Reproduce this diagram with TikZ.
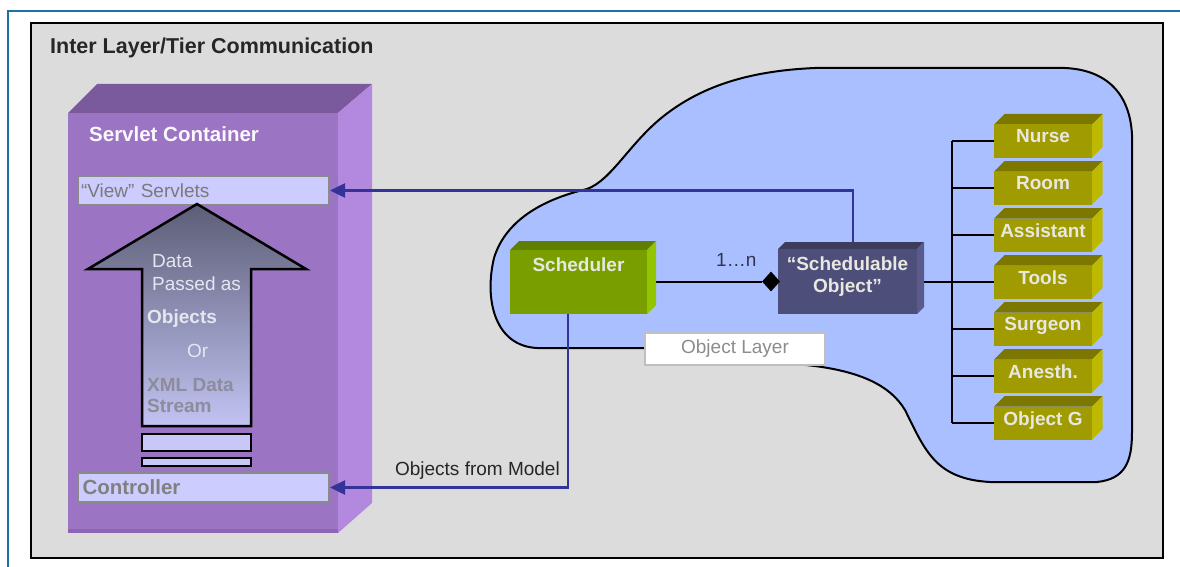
\documentclass[tikz,border=0pt]{standalone}
\usepackage{fontspec}
\setmainfont{Liberation Sans}
\usetikzlibrary{shapes.geometric,arrows.meta}
\pgfdeclarelayer{back}
\pgfdeclarelayer{mid}
\pgfsetlayers{back,mid,main}

\definecolor{frameblue}{HTML}{1F6FA8}
\definecolor{panelgray}{HTML}{DCDCDC}
\definecolor{cFront}{HTML}{9C74C4}
\definecolor{cTop}{HTML}{7A5A9C}
\definecolor{cSide}{HTML}{B389E0}
\definecolor{cBottom}{HTML}{8C66B4}
\definecolor{lav}{HTML}{CCCCFF}
\definecolor{lavedge}{HTML}{8A8A8A}
\definecolor{arrowtop}{HTML}{5C5D76}
\definecolor{arrowbot}{HTML}{C2C3F2}
\definecolor{barfill}{HTML}{C8C8F8}
\definecolor{blobblue}{HTML}{AABFFF}
\definecolor{flowblue}{HTML}{333399}
\definecolor{gF}{HTML}{789E00}
\definecolor{gT}{HTML}{5E7F00}
\definecolor{gS}{HTML}{93C400}
\definecolor{sF}{HTML}{4E4E7A}
\definecolor{sT}{HTML}{3C3C5C}
\definecolor{sS}{HTML}{5A5A8C}
\definecolor{yF}{HTML}{A09B00}
\definecolor{yT}{HTML}{7B7700}
\definecolor{yS}{HTML}{BDB800}
\definecolor{labtext}{HTML}{E8E8E0}
\definecolor{softtext}{HTML}{E6E6F0}
\definecolor{greytext}{HTML}{8C8C9C}
\definecolor{multtext}{HTML}{33334F}

\tikzset{
  gfront/.style={fill=gF}, gtop/.style={fill=gT}, gside/.style={fill=gS},
  sfront/.style={fill=sF}, stop/.style={fill=sT}, sside/.style={fill=sS},
  yfront/.style={fill=yF}, ytop/.style={fill=yT}, yside/.style={fill=yS},
  boxlab/.style={font=\fontsize{19}{22}\selectfont\bfseries, text=labtext, inner sep=0pt},
  flow/.style={draw=flowblue, line width=2.5pt, -{Triangle[length=15pt,width=14pt]}},
  link/.style={draw=black, line width=2pt},
  tierbox/.style={fill=lav, draw=lavedge, line width=2pt, minimum width=251pt,
    minimum height=29pt, inner xsep=3pt, inner ysep=0pt, text width=245pt, align=left,
    font=\fontsize{19}{22}\selectfont},
  arrtxt/.style={font=\fontsize{19}{22}\selectfont, inner sep=0pt, text=softtext},
  plain/.style={font=\fontsize{19}{22}\selectfont, inner sep=0pt},
}

% 3-D block: name, x, y (front top-left), width, height, depth, colour set, label, label top offset
\newcommand\boxthree[9]{%
  \fill[#7top] (#2,#3) -- ++(#6,-#6) -- ++(#4,0) -- ++(-#6,#6) -- cycle;
  \fill[#7side] (#2+#4,#3) -- ++(#6,-#6) -- ++(0,#5) -- ++(-#6,#6) -- cycle;
  \node[#7front, anchor=north west, minimum width=#4pt, minimum height=#5pt,
        inner sep=0pt, outer sep=0pt] (#1) at (#2,#3) {};
  \node[boxlab, anchor=north, align=center] at ([yshift=-#9pt]#1.north) {#8};
}

\begin{document}
\begin{tikzpicture}[x=1pt, y=-1pt]
\useasboundingbox (0,0) rectangle (1180,567);

% page frame and grey panel
\begin{pgfonlayer}{back}
  \fill[white] (0,0) rectangle (1180,567);
  \draw[frameblue, line width=2pt] (8,567) -- (8,11) -- (1180,11);
  \path[fill=panelgray, draw=black, line width=2pt] (31,23) rectangle (1163,558);

  % object layer region
  \path[fill=blobblue, draw=black, line width=2pt]
    (537,348) -- (650,348) -- (815,366)
    .. controls (860,372) and (890,385) .. (905,410)
    .. controls (925,450) and (935,479) .. (990,482)
    -- (1097,482)
    .. controls (1125,479) and (1132,462) .. (1132,432)
    -- (1132,135)
    .. controls (1130,95) and (1108,70) .. (1065,68)
    -- (815,68)
    .. controls (745,71) and (700,88) .. (665,115)
    .. controls (630,142) and (612,180) .. (587,189)
    .. controls (540,200) and (505,222) .. (494,258)
    .. controls (484,300) and (495,346) .. (537,348)
    -- cycle;
  \node[fill=white, draw=black!25, line width=1.5pt, minimum width=180pt, minimum height=32pt,
        inner sep=0pt, font=\fontsize{19}{22}\selectfont, text=black!45] (olayer) at (735,349) {Object Layer};
\end{pgfonlayer}

\node[anchor=base west, font=\fontsize{21.5}{24}\selectfont\bfseries, inner sep=0pt, text=black!85]
  (title) at (50,54) {Inter Layer/Tier Communication};

% servlet container block
\fill[cTop] (68,113) -- (97,84) -- (372,84) -- (338,113) -- cycle;
\fill[cSide] (338,113) -- (372,84) -- (372,503) -- (338,533) -- cycle;
\node[fill=cFront, anchor=north west, minimum width=270pt, minimum height=420pt,
      inner sep=0pt, outer sep=0pt] (container) at (68,113) {};
\fill[cBottom] (68,529) rectangle (338,533);
\node[anchor=base west, font=\fontsize{20.5}{24}\selectfont\bfseries, inner sep=0pt, text=white!95!cFront]
  (ctitle) at (89,142) {Servlet Container};

\node[tierbox, text=black!52, anchor=north west] (view) at (77,175) {“View” Servlets};
\node[tierbox, text=black!50, anchor=north west, font=\fontsize{20.5}{22}\selectfont\bfseries] (ctrl) at (77,472) {\hspace*{1.5pt}Controller};

% data arrow and bars
\path[top color=arrowtop, bottom color=arrowbot, draw=black, line width=2.5pt, line join=miter]
  (142,426) -- (142,269) -- (88,269) -- (197,204) -- (306,269) -- (251,269) -- (251,426) -- cycle;
\path[fill=barfill, draw=black, line width=2pt] (142,434) rectangle (251,451);
\path[fill=barfill, draw=black, line width=2pt] (142,458) rectangle (251,466);

\node[arrtxt, anchor=base west] (t1) at (152,267) {Data};
\node[arrtxt, anchor=base west] (t2) at (152,290) {Passed as};
\node[arrtxt, anchor=base west, font=\fontsize{19}{22}\selectfont\bfseries] (t3) at (147,323) {Objects};
\node[arrtxt, anchor=base west] (t4) at (187,357) {Or};
\node[arrtxt, anchor=base west, text=greytext, font=\fontsize{19}{22}\selectfont\bfseries] (t5) at (147,391) {XML Data};
\node[arrtxt, anchor=base west, text=greytext, font=\fontsize{19}{22}\selectfont\bfseries] (t6) at (147,412) {Stream};

% object layer blocks
\boxthree{sched}{510}{250}{137}{64}{9}{g}{Scheduler}{7.4}
\boxthree{so}{778}{249}{139}{65}{7}{s}{“Schedulable\\Object”}{7.4}
\boxthree{nurse}{994}{124.5}{98}{33}{10.5}{y}{Nurse}{4.9}
\boxthree{room}{994}{171.5}{98}{33}{10.5}{y}{Room}{4.9}
\boxthree{assist}{994}{218.5}{98}{33}{10.5}{y}{Assistant}{4.9}
\boxthree{tools}{994}{265.5}{98}{33}{10.5}{y}{Tools}{4.9}
\boxthree{surgeon}{994}{312.5}{98}{33}{10.5}{y}{Surgeon}{4.9}
\boxthree{anesth}{994}{359.5}{98}{33}{10.5}{y}{Anesth.}{4.9}
\boxthree{objg}{994}{406.5}{98}{33}{10.5}{y}{Object G}{4.9}

\node[diamond, fill=black, inner sep=0pt, minimum width=18pt, minimum height=20pt] (dia) at (771,281.5) {};
\node[plain, anchor=base west, text=multtext] (mult) at (716,266) {1…n};
\coordinate (bus) at (952,281.5);

% association lines run behind the blocks
\begin{pgfonlayer}{mid}
  \draw[link] (dia.west) -- (dia.west -| sched.east);
  \draw[link] (so.east) -- (bus);
  \draw[link] (bus |- nurse.west) -- (bus |- objg.west);
  \foreach \b in {nurse,room,assist,tools,surgeon,anesth,objg}
    \draw[link] (bus |- \b.west) -- (\b.west);
\end{pgfonlayer}

% data flow back to the servlet tier
\draw[flow] ([xshift=5.5pt,yshift=7pt]so.north) |- (view.east);
\draw[flow] ([xshift=-10.5pt]sched.south) |- (ctrl.east);

\node[plain, anchor=base east, text=black!85] (fromModel) at (560,475) {Objects from Model};
\end{tikzpicture}
\end{document}
